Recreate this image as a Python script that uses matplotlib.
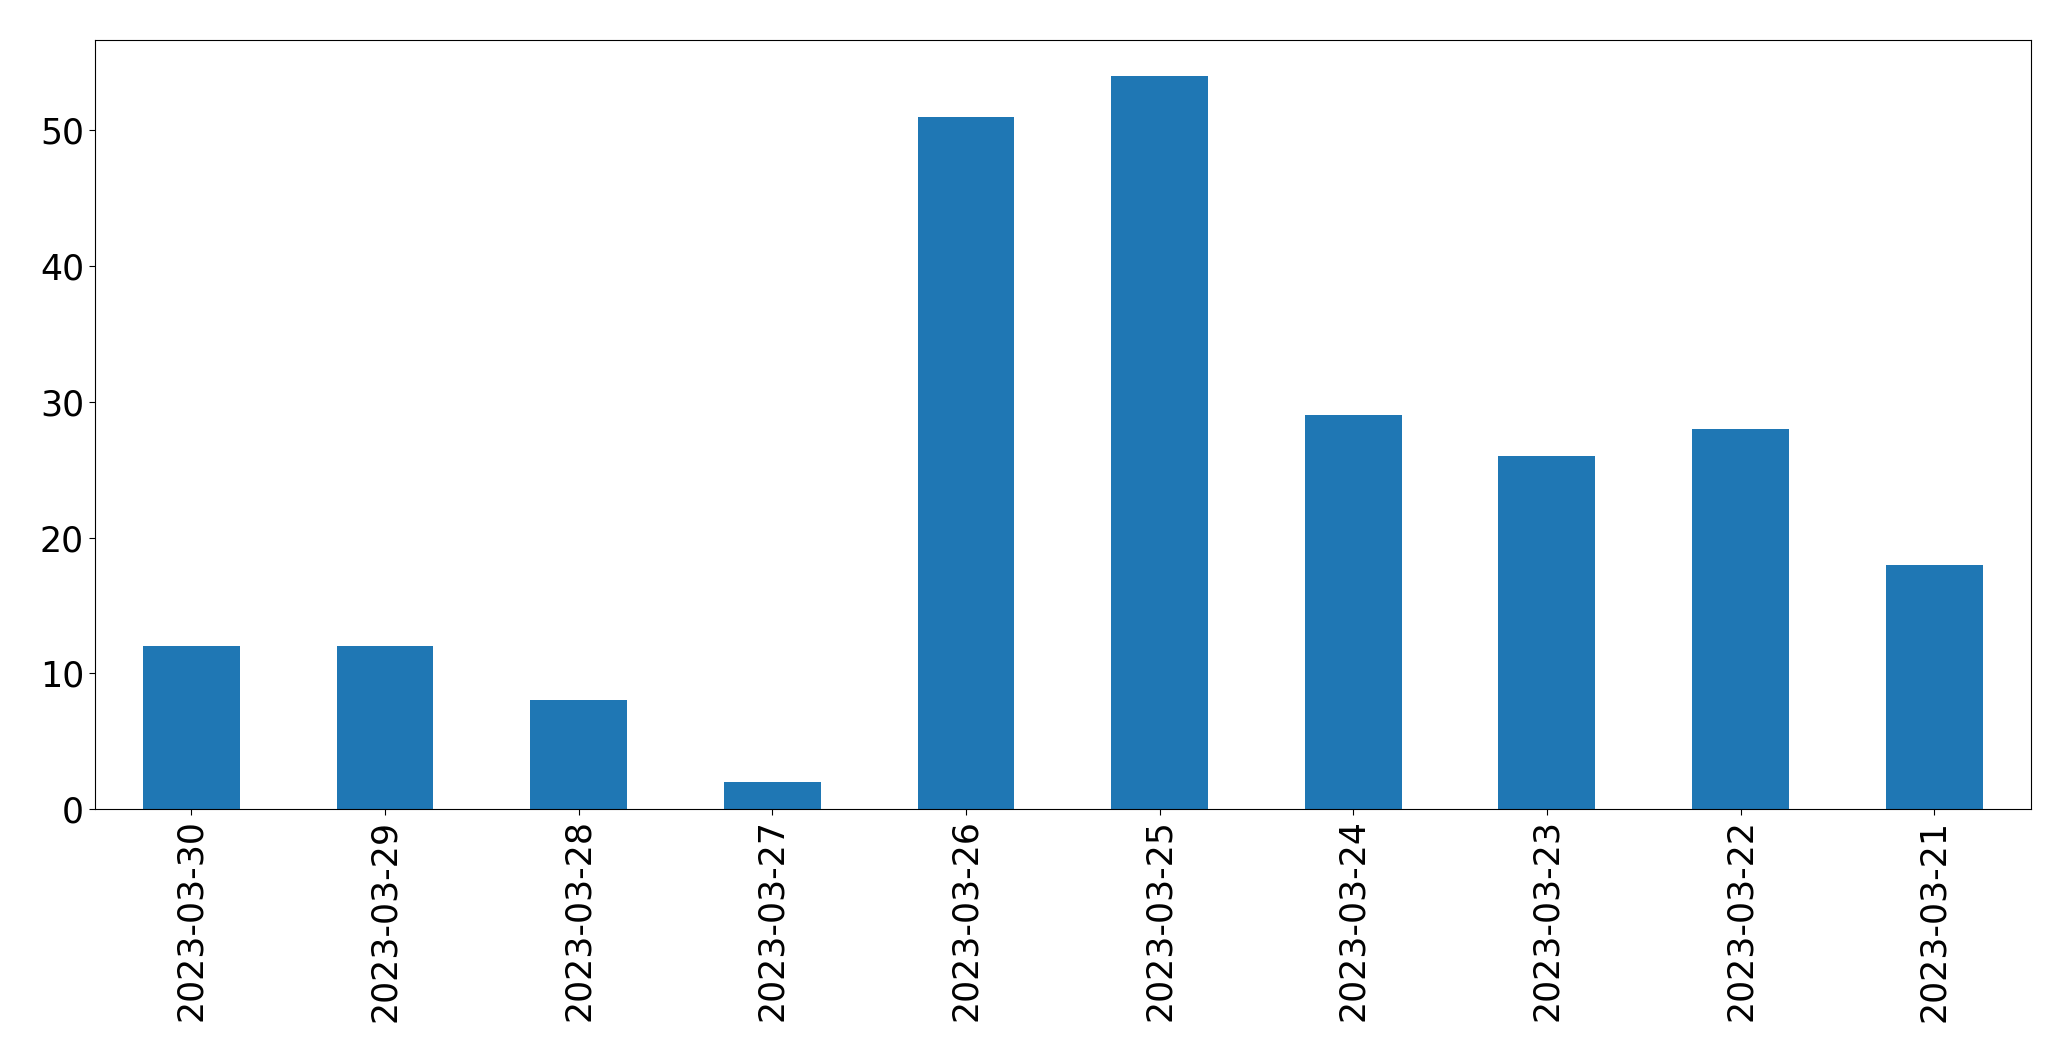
import matplotlib
matplotlib.use("Agg")
import matplotlib.pyplot as plt

# 每日计数（按日期倒序）
dates = ["2023-03-30", "2023-03-29", "2023-03-28", "2023-03-27", "2023-03-26",
         "2023-03-25", "2023-03-24", "2023-03-23", "2023-03-22", "2023-03-21"]
counts = [12, 12, 8, 2, 51, 54, 29, 26, 28, 18]

fig = plt.figure(figsize=(20.71, 10.61), dpi=100)
ax = fig.add_axes([94.5 / 2071, 1 - 809 / 1061, (2031 - 94.5) / 2071, (809 - 39.5) / 1061])

x = range(len(dates))
ax.bar(x, counts, width=0.5, color="#1f77b4")
ax.set_xlim(-0.5, len(dates) - 0.5)
ax.set_xticks(list(x))
ax.set_xticklabels(dates, rotation=90)
ax.tick_params(axis="both", labelsize=25, length=4)

fig.savefig("out.png", dpi=100)
